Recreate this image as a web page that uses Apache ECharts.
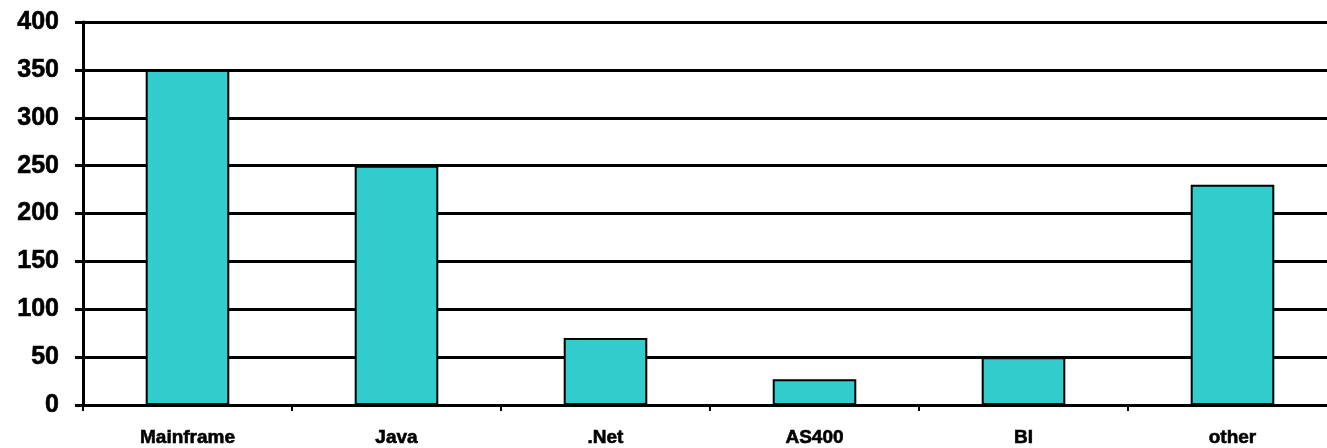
<!DOCTYPE html>
<html>
<head>
<meta charset="utf-8">
<script src="https://cdn.jsdelivr.net/npm/echarts@6/dist/echarts.min.js"></script>
<style>
  html, body { margin: 0; padding: 0; background: #fff; overflow: hidden; }
  /* the plot runs ~10px past the right edge of the picture */
  #chart { width: 1337px; height: 448px; }
</style>
</head>
<body>
<div id="chart"></div>
<script>
// categories and values
var categories = ['Mainframe', 'Java', '.Net', 'AS400', 'BI', 'other'];
var counts = [350, 250, 70, 27, 50, 230];
var yTicks = { min: 0, max: 400, step: 50 };

var chart = echarts.init(document.getElementById('chart'), null, { renderer: 'canvas' });

var labelFont = 'Liberation Sans, Arial, sans-serif';

var option = {
    animation: false,
    backgroundColor: '#ffffff',
    grid: { left: 83, right: 0, top: 22, bottom: 43, containLabel: false },
    xAxis: {
        type: 'category',
        data: categories,
        axisLine: { show: true, lineStyle: { color: '#000', width: 3 } },
        axisTick: { show: true, length: 6, lineStyle: { color: '#000', width: 2 } },
        axisLabel: {
            color: '#000',
            fontFamily: labelFont,
            fontWeight: 'bold',
            fontSize: 19,
            margin: 23,
            textBorderColor: '#000',
            textBorderWidth: 0.6
        },
        splitLine: { show: false }
    },
    yAxis: {
        type: 'value',
        min: yTicks.min,
        max: yTicks.max,
        interval: yTicks.step,
        axisLine: { show: true, lineStyle: { color: '#000', width: 3 } },
        axisTick: { show: true, length: 8, lineStyle: { color: '#000', width: 3 } },
        axisLabel: {
            color: '#000',
            fontFamily: labelFont,
            fontWeight: 'bold',
            fontSize: 25,
            margin: 24,
            textBorderColor: '#000',
            textBorderWidth: 0.6
        },
        splitLine: { show: true, lineStyle: { color: '#000', width: 3 } }
    },
    series: [{
        type: 'bar',
        data: counts,
        barWidth: '40%',
        itemStyle: { color: '#33CCCC', borderColor: '#000', borderWidth: 2 }
    }]
};

chart.setOption(option);
</script>
</body>
</html>
